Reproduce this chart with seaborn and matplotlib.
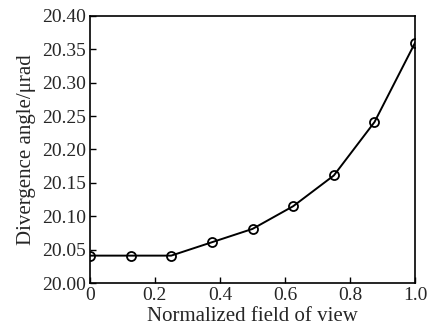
import matplotlib
matplotlib.use("Agg")
import matplotlib.pyplot as plt
import seaborn as sns
import pandas as pd

# values
field = [0, 0.125, 0.25, 0.375, 0.5, 0.625, 0.75, 0.875, 1.0]
angle = [20.041, 20.041, 20.041, 20.061, 20.081, 20.115, 20.161, 20.241, 20.360]
x_ticks = [0, 0.2, 0.4, 0.6, 0.8, 1.0]
x_labels = ["0", "0.2", "0.4", "0.6", "0.8", "1.0"]
y_ticks = [20.00, 20.05, 20.10, 20.15, 20.20, 20.25, 20.30, 20.35, 20.40]

sns.set_theme(style="white")
plt.rcParams['font.family'] = ['Liberation Serif', 'DejaVu Serif']

df = pd.DataFrame({"field": field, "angle": angle})

fig, ax = plt.subplots(figsize=(4.32, 3.31), dpi=100)
sns.lineplot(data=df, x="field", y="angle", ax=ax, color="black", linewidth=1.4,
             marker="o", markersize=6.5, markerfacecolor="none",
             markeredgecolor="black", markeredgewidth=1.3)

ax.set_xlim(0, 1.0)
ax.set_ylim(20.0, 20.4)
ax.set_xticks(x_ticks)
ax.set_xticklabels(x_labels)
ax.set_yticks(y_ticks)
ax.set_yticklabels([f"{v:.2f}" for v in y_ticks])
ax.tick_params(direction="in", length=4, width=1, labelsize=14, color="black",
               pad=3, bottom=True, left=True, top=False, right=False)
for s in ax.spines.values():
    s.set_color("black")
    s.set_linewidth(1.2)

ax.set_xlabel("Normalized field of view", fontsize=15, labelpad=2)
ax.set_ylabel("Divergence angle/μrad", fontsize=15, labelpad=4)

fig.subplots_adjust(left=0.208, right=0.961, top=0.952, bottom=0.145)
fig.savefig("out.png", dpi=100)
